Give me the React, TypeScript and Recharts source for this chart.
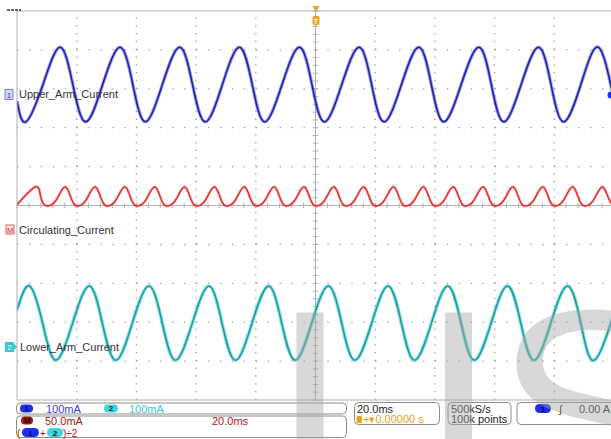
import React from "react";
import { LineChart, Line, XAxis, YAxis, ReferenceLine } from "recharts";

// time in ms (trigger at 0), 20 ms/div
const majorTimes = [-80, -60, -40, -20, 20, 40, 60, 80];
const majorDivs = [-4, -3, -2, -1, 1, 2, 3, 4];
const minorTimes = Array.from({ length: 51 }, (_, i) => -100 + i * 4);
const minorDivs = Array.from({ length: 51 }, (_, i) => Math.round((-5 + i * 0.2) * 10) / 10);

// channel 1: Upper_Arm_Current, 100 mA/div
const upperT = [
  -100, -97.0, -91.3, -85.6, -81.3, -77.0, -71.3, -65.5, -61.2, -57.0, -51.3, -45.5, -41.2,
  -36.9, -31.2, -25.5, -21.2, -17.0, -11.2, -5.4, -1.2, 3.0, 8.8, 14.6, 18.8, 23.0, 28.8,
  34.6, 38.8, 43.0, 48.8, 54.7, 58.9, 63.1, 68.9, 74.7, 78.9, 83.1, 88.9, 94.7, 98.9, 100,
];
const upperMa = [
  -16, -69, 27, 123, 27, -69, 27, 123, 27, -69, 27, 123, 27, -69, 27, 123, 27, -69, 27, 123,
  27, -69, 27, 123, 27, -69, 27, 123, 27, -69, 27, 123, 27, -69, 27, 123, 27, -69, 27, 123, 27, 8,
];

// channel 2: Lower_Arm_Current, 100 mA/div
const lowerT = [
  -100, -95.8, -91.4, -87.0, -81.4, -75.8, -71.4, -66.9, -61.4, -55.8, -51.3, -46.9, -41.3,
  -35.7, -31.3, -26.8, -21.3, -15.7, -11.3, -6.8, -1.3, 4.3, 8.8, 13.2, 18.8, 24.3, 28.8,
  33.2, 38.8, 44.3, 48.8, 53.2, 58.8, 64.3, 68.8, 73.2, 78.8, 84.4, 88.9, 93.3, 98.9, 100,
];
const lowerMa = [
  92, 154, 58, -37, 58, 154, 58, -37, 58, 154, 58, -37, 58, 154, 58, -37, 58, 154, 58, -37,
  58, 154, 58, -37, 58, 154, 58, -37, 58, 154, 58, -37, 58, 154, 58, -37, 58, 154, 58, -37, 58, 85,
];

// math M = (1+2)/2: Circulating_Current, 50 mA/div
const circT = [
  -100,
  -93.8, -92.1, -90.4, -87.7, -85.7, -83.8, -82.1, -80.4, -77.7, -75.7,
  -73.8, -72.1, -70.4, -67.7, -65.7, -63.8, -62.1, -60.4, -57.7, -55.7,
  -53.8, -52.1, -50.4, -47.7, -45.7, -43.8, -42.1, -40.4, -37.7, -35.7,
  -33.8, -32.1, -30.4, -27.7, -25.7, -23.8, -22.1, -20.4, -17.7, -15.7,
  -13.8, -12.1, -10.4, -7.7, -5.7, -3.8, -2.1, -0.4, 2.3, 4.3,
  6.2, 7.9, 9.6, 12.3, 14.3, 16.2, 17.9, 19.6, 22.3, 24.3,
  26.2, 27.9, 29.6, 32.3, 34.3, 36.2, 37.9, 39.6, 42.3, 44.3,
  46.2, 47.9, 49.6, 52.3, 54.3, 56.2, 57.9, 59.6, 62.3, 64.3,
  66.2, 67.9, 69.6, 72.3, 74.3, 76.2, 77.9, 79.6, 82.3, 84.3,
  86.2, 87.9, 89.6, 92.3, 94.3, 96.2, 97.9, 99.6,
  100,
];
const circMa = [
  31,
  54, 42, 30, 33, 45, 54, 42, 30, 33, 45,
  54, 42, 30, 33, 45, 54, 42, 30, 33, 45,
  54, 42, 30, 33, 45, 54, 42, 30, 33, 45,
  54, 42, 30, 33, 45, 54, 42, 30, 33, 45,
  54, 42, 30, 33, 45, 54, 42, 30, 33, 45,
  54, 42, 30, 33, 45, 54, 42, 30, 33, 45,
  54, 42, 30, 33, 45, 54, 42, 30, 33, 45,
  54, 42, 30, 33, 45, 54, 42, 30, 33, 45,
  54, 42, 30, 33, 45, 54, 42, 30, 33, 45,
  54, 42, 30, 33, 45, 54, 42, 30,
  30.5,
];

// scale (mA/div) and ground marker position (div from centre)
const CH1 = { scale: 100, pos: 2.84 };
const CH2 = { scale: 100, pos: -3.61 };
const MATH = { scale: 50, pos: -0.6 };

const toDivs = (ts: number[], vs: number[], ch: { scale: number; pos: number }) =>
  ts.map((t, i) => ({ t, v: ch.pos + vs[i] / ch.scale }));

const upperData = toDivs(upperT, upperMa, CH1);
const lowerData = toDivs(lowerT, lowerMa, CH2);
const circData = toDivs(circT, circMa, MATH);

const BORDER = "#b0b0b0";
const DOT = "#9c9c9c";
const FONT = "'Liberation Sans', Arial, sans-serif";

function Pill({ x, y, w, h, fill, label, color = "#101040" }: any) {
  return (
    <g>
      <rect x={x} y={y} width={w} height={h} rx={h / 2} fill={fill} />
      <text x={x + w / 2} y={y + h - 1.5} fontSize={8} fontWeight="bold" textAnchor="middle" fill={color} fontFamily={FONT}>
        {label}
      </text>
    </g>
  );
}

export default function App() {
  return (
    <div style={{ position: "absolute", left: 0, top: 0, width: 611, height: 439, overflow: "hidden", background: "#fff" }}>
      <div style={{ position: "absolute", left: 0, top: 0 }}>
        <LineChart width={620} height={439} margin={{ top: 11, right: 6, bottom: 39, left: 17 }}>
          <XAxis type="number" dataKey="t" domain={[-100, 100]} ticks={minorTimes} interval={0} allowDataOverflow mirror tick={false} tickSize={4} tickLine={{ stroke: BORDER }} axisLine={{ stroke: BORDER }} />
          <XAxis xAxisId="top" orientation="top" type="number" dataKey="t" domain={[-100, 100]} ticks={minorTimes} interval={0} allowDataOverflow mirror tick={false} tickSize={4} tickLine={{ stroke: BORDER }} axisLine={{ stroke: BORDER }} />
          <YAxis type="number" domain={[-5, 5]} ticks={minorDivs} interval={0} allowDataOverflow mirror tick={false} tickSize={4} tickLine={{ stroke: BORDER }} axisLine={{ stroke: BORDER }} />
          {majorTimes.map((t) => (
            <ReferenceLine key={"vx" + t} x={t} stroke={DOT} strokeWidth={1.3} strokeDasharray="1.3 6.48" />
          ))}
          {majorDivs.map((d) => (
            <ReferenceLine key={"hy" + d} y={d} stroke={DOT} strokeWidth={1.3} strokeDasharray="1.3 10.64" />
          ))}
          <ReferenceLine x={0} stroke={BORDER} />
          <ReferenceLine y={0} stroke={BORDER} />
          {minorDivs.map((d) => (
            <ReferenceLine key={"cy" + d} segment={[{ x: -0.9, y: d }, { x: 0.9, y: d }]} stroke={BORDER} />
          ))}
          {minorTimes.map((t) => (
            <ReferenceLine key={"cx" + t} segment={[{ x: t, y: -0.07 }, { x: t, y: 0.07 }]} stroke={BORDER} />
          ))}
          <Line data={upperData} dataKey="v" type="natural" stroke="#4a52dc" strokeWidth={3.4} strokeOpacity={0.55} dot={false} isAnimationActive={false} />
          <Line data={upperData} dataKey="v" type="natural" stroke="#1c1ea6" strokeWidth={1.5} dot={false} isAnimationActive={false} />
          <Line data={circData} dataKey="v" type="natural" stroke="#f04a4a" strokeWidth={2.6} strokeOpacity={0.5} dot={false} isAnimationActive={false} />
          <Line data={circData} dataKey="v" type="natural" stroke="#e02a2a" strokeWidth={1.3} dot={false} isAnimationActive={false} />
          <Line data={lowerData} dataKey="v" type="natural" stroke="#3ccad0" strokeWidth={3.6} strokeOpacity={0.6} dot={false} isAnimationActive={false} />
          <Line data={lowerData} dataKey="v" type="natural" stroke="#1a9aa2" strokeWidth={1.5} dot={false} isAnimationActive={false} />
        </LineChart>
      </div>
      <svg width={611} height={439} style={{ position: "absolute", left: 0, top: 0, pointerEvents: "none" }} fontFamily={FONT}>
        {/* top-left readout stub */}
        <line x1={7} y1={10} x2={21} y2={10} stroke="#333" strokeWidth={1.5} strokeDasharray="3 1" />
        {/* trigger position marker */}
        <polygon points="312.5,6 319.5,6 316,12" fill="#f0a020" />
        <rect x={312.5} y={16} width={7} height={9} rx={2} fill="#f0a020" />
        <text x={316} y={23.5} fontSize={7} fontWeight="bold" textAnchor="middle" fill="#fff">T</text>
        {/* trigger level marker */}
        <circle cx={611} cy={95} r={3.5} fill="#1c2cf0" />

        {/* channel ground markers and labels */}
        <rect x={5} y={89.5} width={8} height={10} fill="#d4d8ff" stroke="#5a64e0" strokeWidth={0.8} />
        <text x={9} y={97.5} fontSize={8} textAnchor="middle" fill="#2030c0">1</text>
        <text x={19} y={98} fontSize={11} fill="#333">Upper_Arm_Current</text>

        <rect x={6} y={225} width={8} height={9} fill="#ffe8e8" stroke="#d04040" strokeWidth={0.8} />
        <text x={10} y={232.5} fontSize={7.5} textAnchor="middle" fill="#c02020">M</text>
        <text x={19} y={233.5} fontSize={11} fill="#333">Circulating_Current</text>

        <rect x={5} y={342} width={9} height={10} fill="#34c8d0" />
        <polygon points="14,344 17,347 14,350" fill="#34c8d0" />
        <text x={9.5} y={350} fontSize={8} textAnchor="middle" fill="#fff">2</text>
        <text x={20} y={350.5} fontSize={11} fill="#333">Lower_Arm_Current</text>

        {/* status boxes */}
        <rect x={16.5} y={403} width={330} height={11} rx={4} fill="#fff" stroke="#8c8c8c" />
        <rect x={16.5} y={416} width={330} height={21.5} rx={4} fill="#fff" stroke="#8c8c8c" />
        <rect x={354.5} y={402.5} width={85} height={22} rx={4} fill="#fff" stroke="#8c8c8c" />
        <rect x={448} y={402.5} width={63} height={22} rx={4} fill="#fff" stroke="#8c8c8c" />
        <rect x={517} y={402.5} width={110} height={22} rx={4} fill="#fff" stroke="#8c8c8c" />

        <Pill x={20} y={404.5} w={13} h={8} fill="#1c2cf0" label="1" />
        <text x={46} y={413} fontSize={11} fill="#3a3ae0">100mA</text>
        <Pill x={104} y={404.5} w={14} h={8} fill="#3cd8d8" label="2" />
        <text x={129} y={413} fontSize={11} fill="#34c8d0">100mA</text>

        <Pill x={21} y={416.5} w={12} h={8} fill="#a01515" label="M" color="#300" />
        <text x={45} y={424.5} fontSize={11} fill="#a82020">50.0mA</text>
        <text x={212} y={424.5} fontSize={11} fill="#a82020">20.0ms</text>
        <text x={17} y={436.5} fontSize={10} fill="#a82020">(</text>
        <Pill x={22} y={428} w={17} h={9} fill="#1c2cf0" label="1" />
        <text x={40} y={436.5} fontSize={10} fill="#a82020">+</text>
        <Pill x={47} y={428} w={16} h={9} fill="#3cd8d8" label="2" />
        <text x={63} y={436.5} fontSize={10} fill="#a82020">)÷2</text>

        <text x={357} y={413} fontSize={11} fill="#222">20.0ms</text>
        <rect x={356.5} y={416} width={5.5} height={7} rx={1.5} fill="#f0a020" />
        <text x={363} y={423} fontSize={11} fill="#f0a020">+▾0.00000 s</text>
        <text x={451} y={413} fontSize={11} fill="#222">500kS/s</text>
        <text x={451} y={423} fontSize={11} fill="#222">100k points</text>
        <Pill x={535} y={404} w={16} h={9} fill="#1c2cf0" label="1" />
        <text x={559} y={413} fontSize={11} fill="#222">∫</text>
        <text x={579} y={413} fontSize={11} fill="#222">0.00 A</text>

        {/* watermark */}
        <g fill="#a8a8a8" fillOpacity={0.45} fontSize={290} fontFamily={FONT}>
          <text x={310} y={512} textAnchor="middle">I</text>
          <text x={458.5} y={512} textAnchor="middle">I</text>
          <text x={494} y={512}>S</text>
        </g>
      </svg>
    </div>
  );
}
